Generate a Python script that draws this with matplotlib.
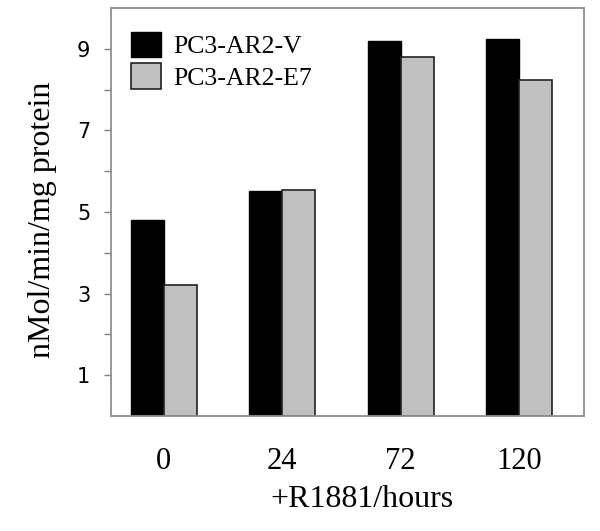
import matplotlib
matplotlib.use("Agg")
import matplotlib.pyplot as plt
import numpy as np

categories = ["0", "24", "72", "120"]
series_v = [4.80, 5.51, 9.19, 9.23]
series_e7 = [3.22, 5.53, 8.81, 8.23]
series_names = ["PC3-AR2-V", "PC3-AR2-E7"]
yticks = [1, 3, 5, 7, 9]

serif = ["Liberation Serif", "DejaVu Serif"]

fig = plt.figure(figsize=(6.0, 5.31), dpi=100)
ax = fig.add_axes([0.185, 0.2166, 0.788, 0.7684])

x = np.arange(len(categories))
w = 0.28
ax.bar(x - w / 2, series_v, width=w, color="black", edgecolor="black", linewidth=1, label=series_names[0])
ax.bar(x + w / 2, series_e7, width=w, color="#c0c0c0", edgecolor="#222222", linewidth=1.2, label=series_names[1])

ax.set_xlim(-0.447, 3.547)
ax.set_ylim(0, 10)
ax.set_yticks(yticks)
ax.set_yticks([2, 4, 6, 8], minor=True)
ax.set_yticklabels([str(t) for t in yticks], fontsize=15, family="DejaVu Sans")
ax.tick_params(axis="y", which="both", direction="out", length=5, width=1, color="#808080", pad=10)
ax.set_xticks(x)
ax.set_xticklabels(categories, fontsize=22, family=serif)
ax.tick_params(axis="x", length=0, pad=22)

for s in ax.spines.values():
    s.set_color("#909090")
    s.set_linewidth(1.3)

ax.set_xlabel("+R1881/hours", fontsize=23, family=serif, labelpad=4)
ax.xaxis.set_label_coords(0.53, -0.168)
ax.set_ylabel("nMol/min/mg protein", fontsize=23, family=serif)
ax.yaxis.set_label_coords(-0.114, 0.48)

fs = 18.5
leg = ax.legend(loc="upper left", bbox_to_anchor=(20 / 473, 1 - 24 / 408), frameon=False,
                prop={"family": serif, "size": fs}, handlelength=1.17, handleheight=1.13,
                handletextpad=0.47, labelspacing=0.2, borderpad=0, borderaxespad=0)

fig.savefig("out.png", dpi=100)
